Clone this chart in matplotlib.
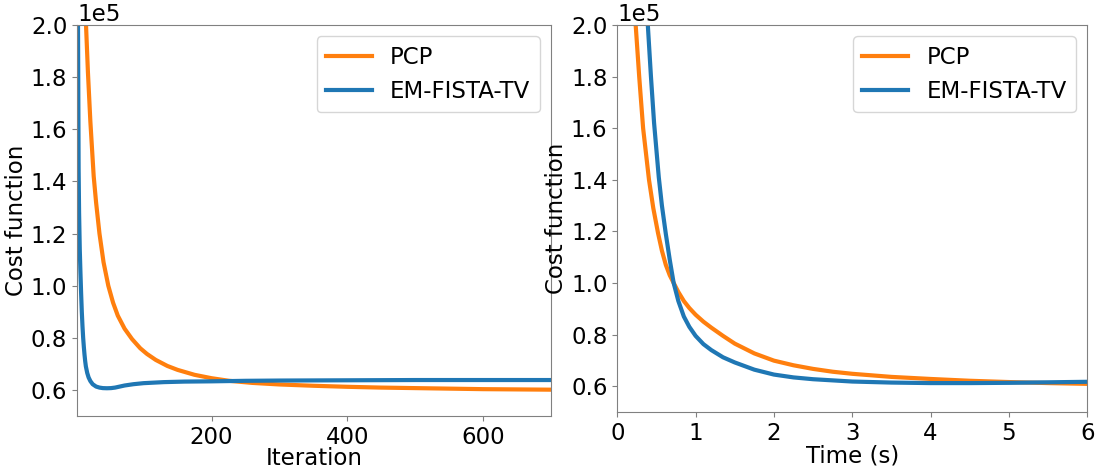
import numpy as np
import matplotlib
matplotlib.use('Agg')
import matplotlib.pyplot as plt

# cost vs iteration
it_pcp = [10, 13, 15.2, 18, 21.6, 26.5, 30, 35, 41, 48, 55, 62, 72, 83, 95, 105, 118, 135, 150, 175,
          200, 226, 260, 300, 350, 400, 450, 500, 550, 600, 650, 700]
cost_pcp_it = [2.6, 2.25, 2.0, 1.82, 1.63, 1.42, 1.32, 1.2, 1.09, 1.0, 0.935, 0.885, 0.835, 0.795,
               0.76, 0.738, 0.715, 0.692, 0.677, 0.658, 0.645, 0.635, 0.627, 0.621, 0.616, 0.612,
               0.609, 0.607, 0.605, 0.603, 0.602, 0.601]

it_em = [2, 2.7, 3.4, 4.3, 5, 6, 7, 8, 9, 10, 11, 12, 13, 14, 15, 17, 19, 21.6, 25, 30, 35, 40, 46,
         52, 58, 65, 72, 85, 100, 130, 160, 200, 250, 300, 400, 500, 600, 700]
cost_em_it = [2.6, 2.3, 2.0, 1.45, 1.28, 1.14, 1.05, 0.97, 0.9, 0.845, 0.8, 0.765, 0.735, 0.71, 0.69,
              0.665, 0.648, 0.634, 0.622, 0.613, 0.609, 0.607, 0.6065, 0.607, 0.609, 0.613, 0.617,
              0.622, 0.626, 0.63, 0.632, 0.633, 0.635, 0.636, 0.637, 0.638, 0.638, 0.638]

# cost vs time
t_pcp = [0.2, 0.235, 0.28, 0.33, 0.405, 0.46, 0.52, 0.57, 0.62, 0.67, 0.72, 0.78, 0.85, 0.92, 1.0,
         1.1, 1.2, 1.35, 1.5, 1.75, 2.0, 2.25, 2.5, 2.75, 3.0, 3.5, 4.0, 4.5, 5.0, 5.5, 6.0]
cost_pcp_t = [2.2, 2.0, 1.8, 1.6, 1.4, 1.29, 1.194, 1.125, 1.07, 1.03, 1.0, 0.965, 0.93, 0.903, 0.877,
              0.85, 0.827, 0.795, 0.765, 0.727, 0.699, 0.681, 0.667, 0.656, 0.648, 0.636, 0.628,
              0.621, 0.616, 0.612, 0.609]

t_em = [0.36, 0.39, 0.43, 0.47, 0.53, 0.57, 0.62, 0.67, 0.72, 0.78, 0.85, 0.92, 1.0, 1.1, 1.2, 1.35,
        1.5, 1.75, 2.0, 2.25, 2.5, 3.0, 3.5, 4.0, 4.5, 5.0, 5.5, 6.0]
cost_em_t = [2.2, 2.0, 1.8, 1.62, 1.41, 1.3, 1.19, 1.09, 1.0, 0.93, 0.87, 0.83, 0.795, 0.763, 0.74,
             0.712, 0.692, 0.664, 0.645, 0.634, 0.627, 0.618, 0.614, 0.612, 0.612, 0.613, 0.615,
             0.617]

fs = 16.5
plt.rcParams['font.size'] = fs
plt.rcParams['axes.edgecolor'] = '0.5'
plt.rcParams['xtick.color'] = '0.5'
plt.rcParams['ytick.color'] = '0.5'
plt.rcParams['xtick.labelcolor'] = 'black'
plt.rcParams['ytick.labelcolor'] = 'black'

fig = plt.figure(figsize=(10.96, 4.68), dpi=100)
ax1 = fig.add_axes([0.0703, 0.1111, 0.4325, 0.8355])
ax2 = fig.add_axes([0.5632, 0.1197, 0.4288, 0.8269])

ax1.plot(it_pcp, np.array(cost_pcp_it) * 1e5, color='#ff7f0e', lw=3, label='PCP')
ax1.plot(it_em, np.array(cost_em_it) * 1e5, color='#1f77b4', lw=3, label='EM-FISTA-TV')
ax1.set_xlim(2, 700)
ax1.set_xticks([200, 400, 600])
ax1.set_xlabel('Iteration', labelpad=-1.5)

ax2.plot(t_pcp, np.array(cost_pcp_t) * 1e5, color='#ff7f0e', lw=3, label='PCP')
ax2.plot(t_em, np.array(cost_em_t) * 1e5, color='#1f77b4', lw=3, label='EM-FISTA-TV')
ax2.set_xlim(0, 6)
ax2.set_xlabel('Time (s)', labelpad=0)

for ax in (ax1, ax2):
    ax.set_ylim(0.5e5, 2.0e5)
    ax.set_yticks(np.arange(0.6, 2.01, 0.2) * 1e5)
    ax.ticklabel_format(axis='y', style='sci', scilimits=(0, 0))
    ax.yaxis.get_offset_text().set_fontsize(fs)
    ax.set_ylabel('Cost function', labelpad=2)
    ax.legend(loc='upper right', fontsize=fs)

fig.savefig('out.png', dpi=100)
